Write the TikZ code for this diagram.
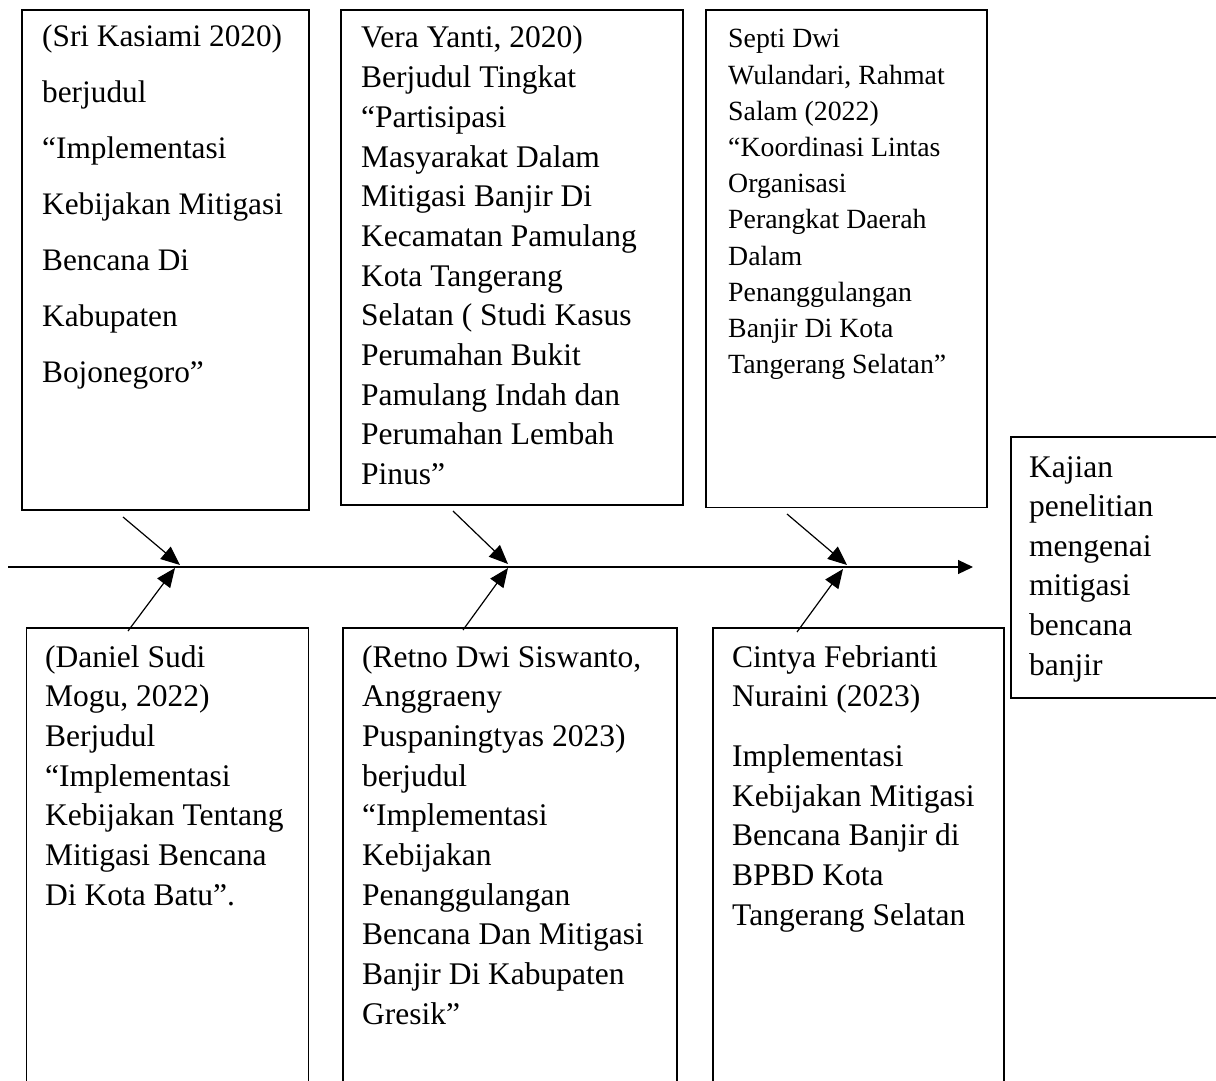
\documentclass[tikz,border=0pt]{standalone}
\usepackage{fontspec}
\setmainfont{Liberation Serif}
\usetikzlibrary{arrows.meta}
\begin{document}
\begin{tikzpicture}[x=1pt,y=-1pt,
  box/.style={draw=black, line width=1.2pt, inner sep=0pt, outer sep=0pt, anchor=north west},
  txt/.style={inner sep=0pt, anchor=base west},
  bigtxt/.style={txt, font=\fontsize{31.5pt}{39.7pt}\selectfont},
  conn/.style={line width=1.2pt, -{Triangle[length=19pt,width=16pt]}},
  mainline/.style={line width=1.2pt, -{Triangle[length=15pt,width=14pt]}}
]
\useasboundingbox (0,0) rectangle (1216,1081);
\clip (0,0) rectangle (1216,1081);

% top boxes
\node[box, minimum width=287pt, minimum height=500pt] (b1) at (22,10) {};
\node[box, minimum width=342pt, minimum height=495pt] (b2) at (341,10) {};
\node[box, minimum width=281pt, minimum height=497.5pt] (b3) at (706,10) {};
% right box (extends past the right edge)
\node[box, minimum width=260pt, minimum height=261pt] (br) at (1011,437) {};
% bottom boxes (extend past the bottom edge)
\node[box, minimum width=282pt, minimum height=480pt] (b4) at (26.5,628) {};
\node[box, minimum width=334pt, minimum height=480pt] (b5) at (343,628) {};
\node[box, minimum width=291pt, minimum height=480pt] (b6) at (713,628) {};

% texts
\node[txt, font=\fontsize{31.3pt}{56pt}\selectfont] (t1) at (42,47) {\parbox[t]{270pt}{%
(Sri Kasiami 2020)\\
berjudul\\
“Implementasi\\
Kebijakan Mitigasi\\
Bencana Di\\
Kabupaten\\
Bojonegoro”}};

\node[bigtxt] (t2) at (361,48) {\parbox[t]{320pt}{%
Vera Yanti, 2020)\\
Berjudul Tingkat\\
“Partisipasi\\
Masyarakat Dalam\\
Mitigasi Banjir Di\\
Kecamatan Pamulang\\
Kota Tangerang\\
Selatan ( Studi Kasus\\
Perumahan Bukit\\
Pamulang Indah dan\\
Perumahan Lembah\\
Pinus”}};

\node[txt, font=\fontsize{27.8pt}{36.2pt}\selectfont] (t3) at (728,48) {\parbox[t]{260pt}{%
Septi Dwi\\
Wulandari, Rahmat\\
Salam (2022)\\
“Koordinasi Lintas\\
Organisasi\\
Perangkat Daerah\\
Dalam\\
Penanggulangan\\
Banjir Di Kota\\
Tangerang Selatan”}};

\node[txt, font=\fontsize{31.5pt}{39.6pt}\selectfont] (tr) at (1029,477) {\parbox[t]{185pt}{%
Kajian\\
penelitian\\
mengenai\\
mitigasi\\
bencana\\
banjir}};

\node[bigtxt] (t4) at (45,667) {\parbox[t]{262pt}{%
(Daniel Sudi\\
Mogu, 2022)\\
Berjudul\\
“Implementasi\\
Kebijakan Tentang\\
Mitigasi Bencana\\
Di Kota Batu”.}};

\node[bigtxt] (t5) at (362,667) {\parbox[t]{312pt}{%
(Retno Dwi Siswanto,\\
Anggraeny\\
Puspaningtyas 2023)\\
berjudul\\
“Implementasi\\
Kebijakan\\
Penanggulangan\\
Bencana Dan Mitigasi\\
Banjir Di Kabupaten\\
Gresik”}};

\node[bigtxt] (t6) at (732,667) {\parbox[t]{270pt}{%
Cintya Febrianti\\
Nuraini (2023)\\[20pt]
Implementasi\\
Kebijakan Mitigasi\\
Bencana Banjir di\\
BPBD Kota\\
Tangerang Selatan}};

% main spine
\coordinate (m0) at (8,567);
\coordinate (m1) at (973,567);
\draw[mainline] (m0) -- (m1);

% branch arrows
\coordinate (s1) at (123,517);   \coordinate (e1) at (180,565);
\coordinate (s2) at (453,511);   \coordinate (e2) at (508,564);
\coordinate (s3) at (787,514);   \coordinate (e3) at (847,565);
\coordinate (s4) at (128,631);   \coordinate (e4) at (175,568);
\coordinate (s5) at (463,630);   \coordinate (e5) at (508,568);
\coordinate (s6) at (797,632);   \coordinate (e6) at (843,569);
\draw[conn] (s1) -- (e1);
\draw[conn] (s2) -- (e2);
\draw[conn] (s3) -- (e3);
\draw[conn] (s4) -- (e4);
\draw[conn] (s5) -- (e5);
\draw[conn] (s6) -- (e6);
\end{tikzpicture}
\end{document}
